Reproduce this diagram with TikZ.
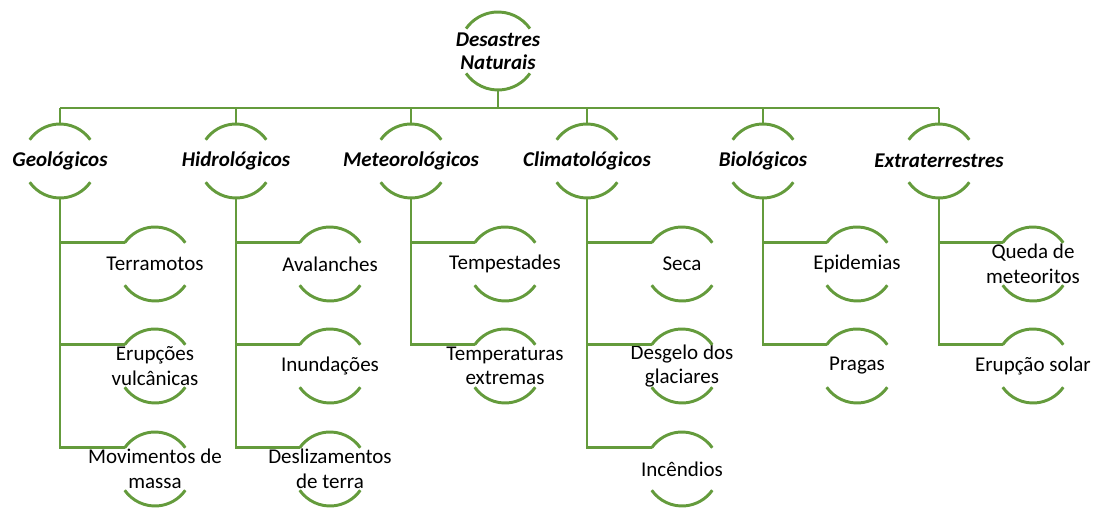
\documentclass[tikz,border=0pt]{standalone}
\usepackage{fontspec}
\setmainfont{Carlito}
\usetikzlibrary{calc}
\definecolor{treegreen}{RGB}{100,155,60}
\tikzstyle{ring} = [circle, minimum size=55.5pt, inner sep=0pt, outer sep=0pt]
\tikzstyle{topring} = [circle, minimum size=58.5pt, inner sep=0pt, outer sep=0pt]
\tikzstyle{line} = [draw, treegreen, line width=2.2pt]
\tikzstyle{head} = [font=\fontsize{15.75}{17.5}\selectfont\bfseries\itshape, align=center]
\tikzstyle{leaf} = [font=\fontsize{15.75}{18.5}\selectfont, align=center]

\begin{document}
\begin{tikzpicture}[x=0.75pt, y=-0.75pt]
      \useasboundingbox (0,0) rectangle (1096,509);

      % root and bus
      \node[topring, label={[head]center:Desastres\\Naturais}] (root) at (498,51) {};
      \coordinate (bus) at (498,108);

      % level one
      \node[ring, label={[head]center:Geológicos}] (geo) at (60,161) {};
      \node[ring, label={[head]center:Hidrológicos}] (hidro) at (236,161) {};
      \node[ring, label={[head]center:Meteorológicos}] (meteo) at (411,161) {};
      \node[ring, label={[head]center:Climatológicos}] (clima) at (587,161) {};
      \node[ring, label={[head]center:Biológicos}] (bio) at (763,161) {};
      \node[ring, label={[head]center:Extraterrestres}] (extra) at (939,161) {};

      % level two
      \node[ring, label={[leaf]center:Terramotos}] (geoa) at (155,264) {};
      \node[ring, label={[leaf]center:Erupções\\vulcânicas}] (geob) at (155,366) {};
      \node[ring, label={[leaf]center:Movimentos de\\massa}] (geoc) at (155,469) {};
      \node[ring, label={[leaf]center:Avalanches}] (hidroa) at (330,264) {};
      \node[ring, label={[leaf]center:Inundações}] (hidrob) at (330,366) {};
      \node[ring, label={[leaf]center:Deslizamentos\\de terra}] (hidroc) at (330,469) {};
      \node[ring, label={[leaf]center:Tempestades}] (meteoa) at (505,264) {};
      \node[ring, label={[leaf]center:Temperaturas\\extremas}] (meteob) at (505,366) {};
      \node[ring, label={[leaf]center:Seca}] (climaa) at (682,264) {};
      \node[ring, label={[leaf]center:Desgelo dos\\glaciares}] (climab) at (682,366) {};
      \node[ring, label={[leaf]center:Incêndios}] (climac) at (682,469) {};
      \node[ring, label={[leaf]center:Epidemias}] (bioa) at (857,264) {};
      \node[ring, label={[leaf]center:Pragas}] (biob) at (857,366) {};
      \node[ring, label={[leaf]center:Queda de\\meteoritos}] (extraa) at (1033,264) {};
      \node[ring, label={[leaf]center:Erupção solar}] (extrab) at (1033,366) {};

      % arcs
      \draw[line] (root) ++(35:29.25pt) arc (35:145:29.25pt);
      \draw[line] (root) ++(215:29.25pt) arc (215:325:29.25pt);
      \foreach \n in {geo,hidro,meteo,clima,bio,extra,geoa,geob,geoc,hidroa,hidrob,hidroc,
                      meteoa,meteob,climaa,climab,climac,bioa,biob,extraa,extrab} {
        \draw[line] (\n) ++(35:27.75pt) arc (35:145:27.75pt);
        \draw[line] (\n) ++(215:27.75pt) arc (215:325:27.75pt);
      }

      % connectors
      \draw[line] (root.south) -- (root.south |- bus);
      \draw[line] (geo.north |- bus) -- (extra.north |- bus);
      \foreach \n in {geo,hidro,meteo,clima,bio,extra}
        \draw[line] (\n.north) -- (\n.north |- bus);

      \draw[line] (geo.south) |- (geoc.145);
      \draw[line] (geo.south |- geoa.145) -- (geoa.145);
      \draw[line] (geo.south |- geob.145) -- (geob.145);
      \draw[line] (hidro.south) |- (hidroc.145);
      \draw[line] (hidro.south |- hidroa.145) -- (hidroa.145);
      \draw[line] (hidro.south |- hidrob.145) -- (hidrob.145);
      \draw[line] (meteo.south) |- (meteob.145);
      \draw[line] (meteo.south |- meteoa.145) -- (meteoa.145);
      \draw[line] (clima.south) |- (climac.145);
      \draw[line] (clima.south |- climaa.145) -- (climaa.145);
      \draw[line] (clima.south |- climab.145) -- (climab.145);
      \draw[line] (bio.south) |- (biob.145);
      \draw[line] (bio.south |- bioa.145) -- (bioa.145);
      \draw[line] (extra.south) |- (extrab.145);
      \draw[line] (extra.south |- extraa.145) -- (extraa.145);
    \end{tikzpicture}
\end{document}
